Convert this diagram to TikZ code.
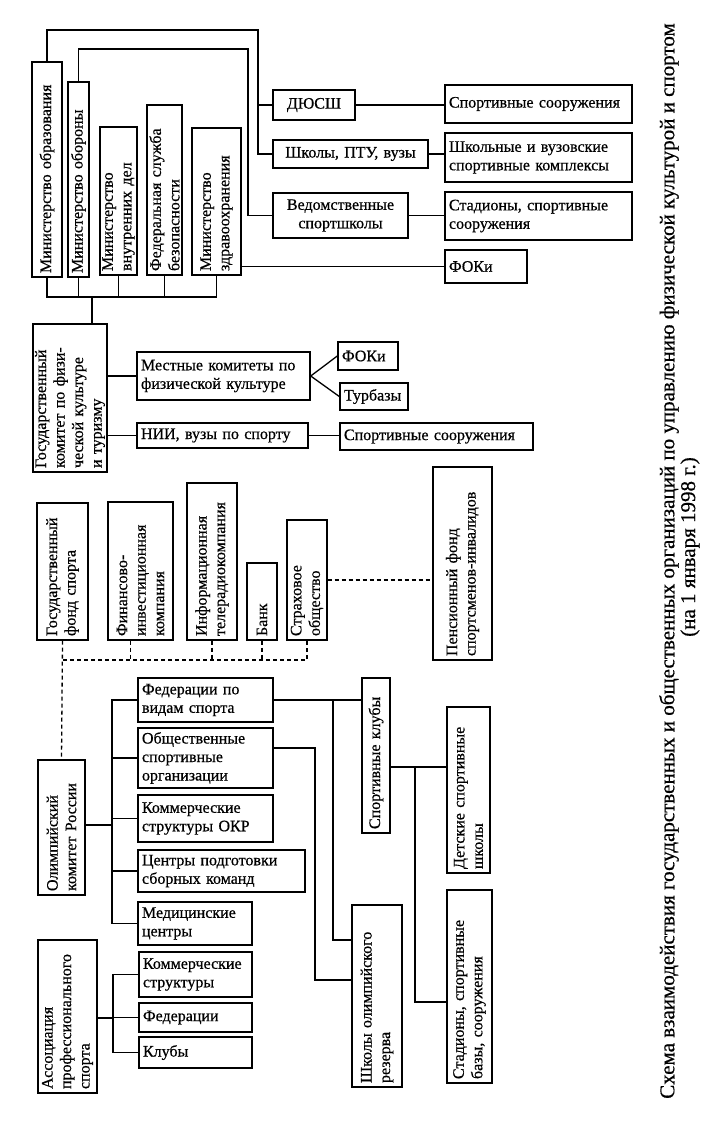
\documentclass[tikz,border=0pt]{standalone}
\usepackage{fontspec}
\setmainfont{Liberation Serif}[FakeBold=0.6]
\usetikzlibrary{calc}
\tikzset{
  bx/.style={draw, line width=1.4pt, inner xsep=4pt, inner ysep=2pt, font=\fontsize{16}{18.5}\selectfont, align=left},
  ln/.style={line width=1.3pt},
  dl/.style={line width=1.3pt, dash pattern=on 4pt off 3pt},
  ttl/.style={rotate=90, inner sep=0pt, font=\fontsize{21}{25}\selectfont},
}
\newcommand\HBx[7][]{%
  \pgfmathsetmacro\cxx{(#3+#5)/2}\pgfmathsetmacro\cyy{(#4+#6)/2}%
  \pgfmathsetmacro\www{#5-#3}\pgfmathsetmacro\hhh{#6-#4}\pgfmathsetmacro\ttw{#5-#3-8}%
  \node[bx,minimum width=\www pt,minimum height=\hhh pt,text width=\ttw pt,#1] (#2) at (\cxx,\cyy) {#7};}
\newcommand\VBx[7][]{%
  \pgfmathsetmacro\cxx{(#3+#5)/2}\pgfmathsetmacro\cyy{(#4+#6)/2}%
  \pgfmathsetmacro\www{#5-#3}\pgfmathsetmacro\hhh{#6-#4}\pgfmathsetmacro\ttw{#6-#4-8}%
  \node[bx,rotate=90,minimum width=\hhh pt,minimum height=\www pt,text width=\ttw pt,#1] (#2) at (\cxx,\cyy) {#7};}
\begin{document}
\begin{tikzpicture}[x=1pt,y=-1pt]
\useasboundingbox (0,0) rectangle (710,1122);
% ministries
\VBx{mo}{32}{62}{62}{277}{Министерство образования}
\VBx{mob}{68}{82}{89}{277}{Министерство обороны}
\VBx{mvd}{100}{127}{137}{275}{Министерство\\внутренних дел}
\VBx{fsb}{147}{105}{182}{275}{Федеральная служба\\безопасности}
\VBx{mz}{192}{128}{241}{275}{Министерство\\здравоохранения}
% top right
\HBx[align=center]{dyussh}{273}{90}{355}{120}{ДЮСШ}
\HBx[align=center]{shk}{273}{140}{428}{168}{Школы, ПТУ, вузы}
\HBx[align=center]{vsh}{273}{193}{408}{238}{Ведомственные\\спортшколы}
\HBx{sa}{445}{85}{632}{123}{Спортивные сооружения}
\HBx{kompl}{445}{133}{632}{182}{Школьные и вузовские\\спортивные комплексы}
\HBx{stada}{445}{192}{632}{240}{Стадионы, спортивные\\сооружения}
\HBx{fokia}{445}{250}{527}{283}{ФОКи}
% goskomitet
\VBx{gk}{33}{324}{107}{472}{Государственный\\комитет по физи-\\ческой культуре\\и туризму}
\HBx{mk}{137}{352}{310}{400}{Местные комитеты по\\физической культуре}
\HBx{fokib}{338}{342}{398}{370}{ФОКи}
\HBx{turb}{340}{383}{408}{410}{Турбазы}
\HBx{nii}{137}{423}{308}{448}{НИИ, вузы по спорту}
\HBx{sb}{340}{423}{533}{450}{Спортивные сооружения}
% fond
\VBx{gf}{37}{503}{88}{640}{Государственный\\фонд спорта}
\VBx{fik}{108}{502}{173}{640}{Финансово-\\инвестиционная\\компания}
\VBx{itr}{187}{483}{237}{640}{Информационная\\телерадиокомпания}
\VBx{bank}{247}{563}{277}{640}{Банк}
\VBx{strah}{287}{520}{327}{640}{Страховое\\общество}
\VBx{pf}{433}{467}{492}{660}{Пенсионный фонд\\спортсменов-инвалидов}
% OKR
\VBx{okr}{38}{760}{85}{895}{Олимпийский\\комитет России}
\HBx{fed}{138}{678}{273}{722}{Федерации по\\видам спорта}
\HBx{obsh}{138}{728}{273}{788}{Общественные\\спортивные\\организации}
\HBx{kokr}{138}{795}{273}{842}{Коммерческие\\структуры ОКР}
\HBx{cp}{138}{850}{305}{892}{Центры подготовки\\сборных команд}
\HBx{med}{138}{902}{252}{945}{Медицинские\\центры}
% APS
\VBx{aps}{38}{940}{97}{1093}{Ассоциация\\профессионального\\спорта}
\HBx{ks}{139}{952}{252}{997}{Коммерческие\\структуры}
\HBx{fd}{139}{1003}{252}{1032}{Федерации}
\HBx{kl}{139}{1037}{252}{1068}{Клубы}
% right cluster
\VBx{sk}{362}{678}{390}{833}{Спортивные клубы}
\VBx{dss}{447}{707}{490}{873}{Детские спортивные\\школы}
\VBx{stadb}{447}{890}{492}{1083}{Стадионы, спортивные\\базы, сооружения}
\VBx{sor}{352}{905}{402}{1087}{Школы олимпийского\\резерва}
% title
\node[ttl] (title) at (669,561) {Схема взаимодействия государственных и общественных организаций по управлению физической культурой и спортом};
\node[ttl] (date) at (690,547) {(на 1 января 1998 г.)};

% ---- connectors ----
\coordinate (ta) at (258,30);
\coordinate (tb) at (248,49);
\draw[ln] (mo.east) |- (ta) |- (shk.west);
\draw[ln] (dyussh.west) -- (dyussh.west -| ta);
\draw[ln] (mob.east) |- (tb) |- (vsh.west);
\draw[ln] (dyussh.east) -- (dyussh.east -| sa.west);
\draw[ln] (shk.east) -- (shk.east -| kompl.west);
\draw[ln] (vsh.east) -- (vsh.east -| stada.west);
\draw[ln] (fokia.west) -- (fokia.west -| mz.south);
% ministries bus
\coordinate (bus) at (92,297);
\draw[ln] (mo.west) -- (mo.west |- bus) -- (mz.west |- bus) -- (mz.west);
\draw[ln] (mob.west) -- (mob.west |- bus);
\draw[ln] (mvd.west) -- (mvd.west |- bus);
\draw[ln] (fsb.west) -- (fsb.west |- bus);
\draw[ln] (bus) -- (bus |- gk.east);
% goskomitet
\draw[ln] (mk.west) -- (mk.west -| gk.south);
\draw[ln] (fokib.west) -- (mk.east) -- (turb.west);
\draw[ln] (nii.west) -- (nii.west -| gk.south);
\draw[ln] (nii.east) -- (nii.east -| sb.west);
% fond dashed
\coordinate (db) at (63,660);
\draw[dl] (gf.west) -- (okr.east);
\draw[dl] (db) -- (db -| strah.west) -- (strah.west);
\draw[dl] ($(fik.west)+(-10,0)$) -- ($(fik.west |- db)+(-10,0)$);
\draw[dl] (itr.west) -- (itr.west |- db);
\draw[dl] (bank.west) -- (bank.west |- db);
\draw[dl] (strah.south) -- (strah.south -| pf.north);
% OKR
\coordinate (ob) at (112,825);
\draw[ln] (okr.south |- ob) -- (ob);
\draw[ln] (fed.west) -| (ob) |- (med.west);
\draw[ln] (obsh.west) -- (obsh.west -| ob);
\draw[ln] (kokr.west) -- (kokr.west -| ob);
\draw[ln] (cp.west) -- (cp.west -| ob);
% APS
\coordinate (ab) at (113,1018);
\draw[ln] (aps.south |- ab) -- (ab);
\draw[ln] (ks.west) -| (ab) |- (kl.west);
\draw[ln] (fd.west) -- (fd.west -| ab);
% right cluster
\coordinate (ja) at (333,940);
\draw[ln] (fed.east) -- (fed.east -| sk.north);
\draw[ln] (fed.east -| ja) -- (ja) -- (ja -| sor.north);
\coordinate (jb) at (315,748);
\coordinate (jc) at (315,980);
\draw[ln] (jb -| obsh.east) -- (jb) -- (jc) -- (jc -| sor.north);
\coordinate (jd) at (415,767);
\coordinate (je) at (415,1002);
\draw[ln] (jd -| sk.south) -- (jd -| dss.north);
\draw[ln] (jd) -- (je) -- (je -| stadb.north);
\end{tikzpicture}
\end{document}
